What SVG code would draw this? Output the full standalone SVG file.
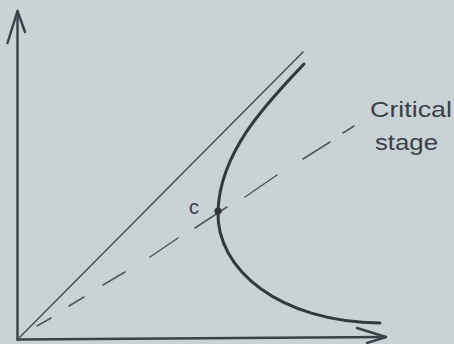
<svg xmlns="http://www.w3.org/2000/svg" width="454" height="344" viewBox="0 0 454 344">
  <style>
    .axis { fill: none; stroke: #3b4148; stroke-width: 2.4; stroke-linecap: round; stroke-linejoin: round; }
    .thin { fill: none; stroke: #4b5259; stroke-width: 1.6; stroke-linecap: round; }
    .dash { fill: none; stroke: #4f565d; stroke-width: 1.5; stroke-linecap: round; }
    .curve { fill: none; stroke: #33393f; stroke-width: 3; stroke-linecap: round; }
    .hand { font-family: "Liberation Sans", "DejaVu Sans", sans-serif; fill: #3a4047; }
  </style>
  <rect width="454" height="344" fill="#c9d2d5"/>
  <g id="connectors">
    <g id="y-axis">
      <path class="axis" d="M17.5,340 L17.5,11"/>
      <path class="axis" d="M7.5,43 L17.5,11 L25,32"/>
    </g>
    <g id="x-axis">
      <path class="axis" d="M17.5,339.5 L386,337"/>
      <path class="axis" d="M357,328 L386,337 L367,343"/>
    </g>
    <path id="diagonal" class="thin" d="M18,339 L303,52"/>
    <path id="critical-line" class="dash" d="M37,326 L51,318 M69,306 L84,297 M103,285 L125,272 M150,257 L178,238 M195,228 L227,207 M245,197 L277,175 M303,159 L330,142 M343,133 L354,126"/>
    <path id="curve" class="curve" d="M304,64 C270,100 220,150 218,211 C216,270 280,322 380,323"/>
  </g>
  <g id="point-c">
    <circle cx="218" cy="211" r="3.6" fill="#2e343a"/>
    <text class="hand" x="189" y="214" font-size="20">c</text>
  </g>
  <g id="label-critical-stage">
    <text class="hand" x="370" y="117" font-size="22" textLength="82" lengthAdjust="spacingAndGlyphs">Critical</text>
    <text class="hand" x="375" y="150" font-size="22" textLength="63" lengthAdjust="spacingAndGlyphs">stage</text>
  </g>
</svg>
